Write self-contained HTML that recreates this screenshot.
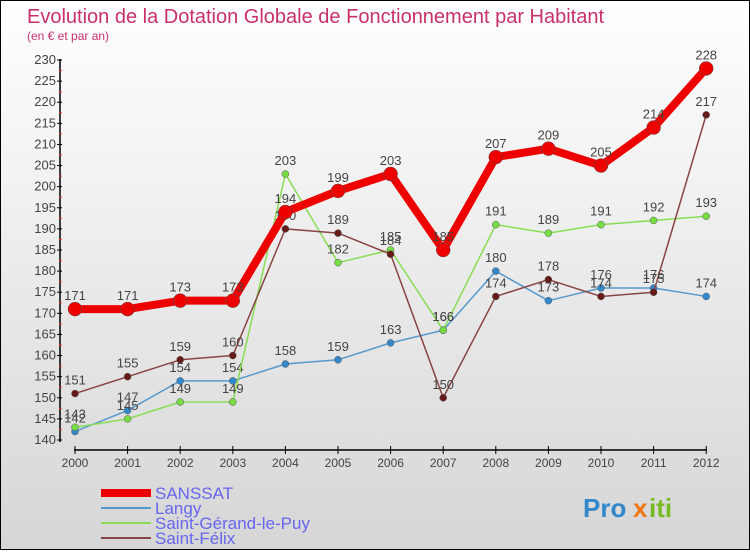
<!DOCTYPE html>
<html><head><meta charset="utf-8"><style>
html,body{margin:0;padding:0}
body{width:750px;height:550px;overflow:hidden;font-family:"Liberation Sans",sans-serif}
#wrap{position:relative;width:748px;height:548px;border:1px solid #000;background:linear-gradient(#fff,#d6d6d6)}
</style></head><body>
<div id="wrap">
<svg id="chart" width="748" height="548" xmlns="http://www.w3.org/2000/svg"></svg>
</div>
<script>
const years=[2000,2001,2002,2003,2004,2005,2006,2007,2008,2009,2010,2011,2012];
const sanssat=[171,171,173,173,194,199,203,185,207,209,205,214,228];
const langy=[142,147,154,154,158,159,163,166,180,173,176,176,174];
const gerand=[143,145,149,149,203,182,185,166,191,189,191,192,193];
const felix=[151,155,159,160,190,189,184,150,174,178,174,175,217];
const yTicks=[140,145,150,155,160,165,170,175,180,185,190,195,200,205,210,215,220,225,230];
const seriesNames=["SANSSAT","Langy","Saint-Gérand-le-Puy","Saint-Félix"];
const NS="http://www.w3.org/2000/svg";
const svg=document.getElementById('chart');
const X=i=>74+i*52.6;
const Y=v=>439-(v-140)*(380/90);
function el(t,a,txt){const e=document.createElementNS(NS,t);for(const k in a)e.setAttribute(k,a[k]);if(txt!==undefined)e.textContent=txt;svg.appendChild(e);return e;}
let e;
e=el('text',{x:26,y:22,'font-size':20,fill:'#c8306a'},'Evolution de la Dotation Globale de Fonctionnement par Habitant');

e=el('text',{x:26,y:39,'font-size':12,fill:'#c8306a'},'(en € et par an)');

e=el('line',{x1:59,y1:58,x2:59,y2:441,stroke:'#000','stroke-width':1.5});

e=el('line',{x1:73,y1:449,x2:706,y2:449,stroke:'#000','stroke-width':1.5});

yTicks.forEach((v,i)=>{
 e=el('line',{x1:56,x2:61,y1:Y(v),y2:Y(v),stroke:'#000'});
 
 if(i<yTicks.length-1){e=el('line',{x1:58,x2:61,y1:Y(v+2.5),y2:Y(v+2.5),stroke:'#e33'});}
 e=el('text',{x:55,y:Y(v)+4,'font-size':13,fill:'#444','text-anchor':'end'},String(v));
 
});
years.forEach((y,i)=>{
 e=el('line',{x1:X(i),x2:X(i),y1:445,y2:453,stroke:'#000'});
 
 e=el('text',{x:X(i),y:466,'font-size':12,fill:'#444','text-anchor':'middle'},String(y));
 
});
function series(data,color,dot,w,r,name){
 const pts=data.map((v,i)=>X(i)+','+Y(v)).join(' ');
 e=el('polyline',{points:pts,fill:'none',stroke:color,'stroke-width':w,'stroke-linejoin':'round'});
 
 data.forEach((v,i)=>{
  e=el('circle',{cx:X(i),cy:Y(v),r:r,fill:dot,stroke:'#555','stroke-width':0.5});
  
  e=el('text',{x:X(i),y:Y(v)-9,'font-size':13,fill:'#444','text-anchor':'middle'},String(v));
  
 });
}
series(langy,'#5599cc','#3388cc',1.5,3.5,'langy');
series(gerand,'#88dd55','#77dd44',1.5,3.5,'saint-gerand');
series(felix,'#884444','#661a1a',1.5,3.5,'saint-felix');
series(sanssat,'#ee0000','#ee0000',8,7,'sanssat');
const legColors=['#ee0000','#5599cc','#88dd55','#884444'];
const legW=[8,2,2,2];
seriesNames.forEach((n,i)=>{
 const y=492+i*15;
 e=el('line',{x1:100,x2:150,y1:y,y2:y,stroke:legColors[i],'stroke-width':legW[i]});
 
 e=el('text',{x:154,y:y+6,'font-size':17,fill:'#6666ee'},n);
 
});
e=el('text',{x:582,y:516,'font-size':26,'font-weight':'bold',fill:'#3388cc'},'Pro');

e=el('text',{x:632,y:516,'font-size':26,'font-weight':'bold',fill:'#ee7711'},'x');

e=el('text',{x:648,y:516,'font-size':26,'font-weight':'bold',fill:'#77bb22'},'iti');

</script>
</body></html>
